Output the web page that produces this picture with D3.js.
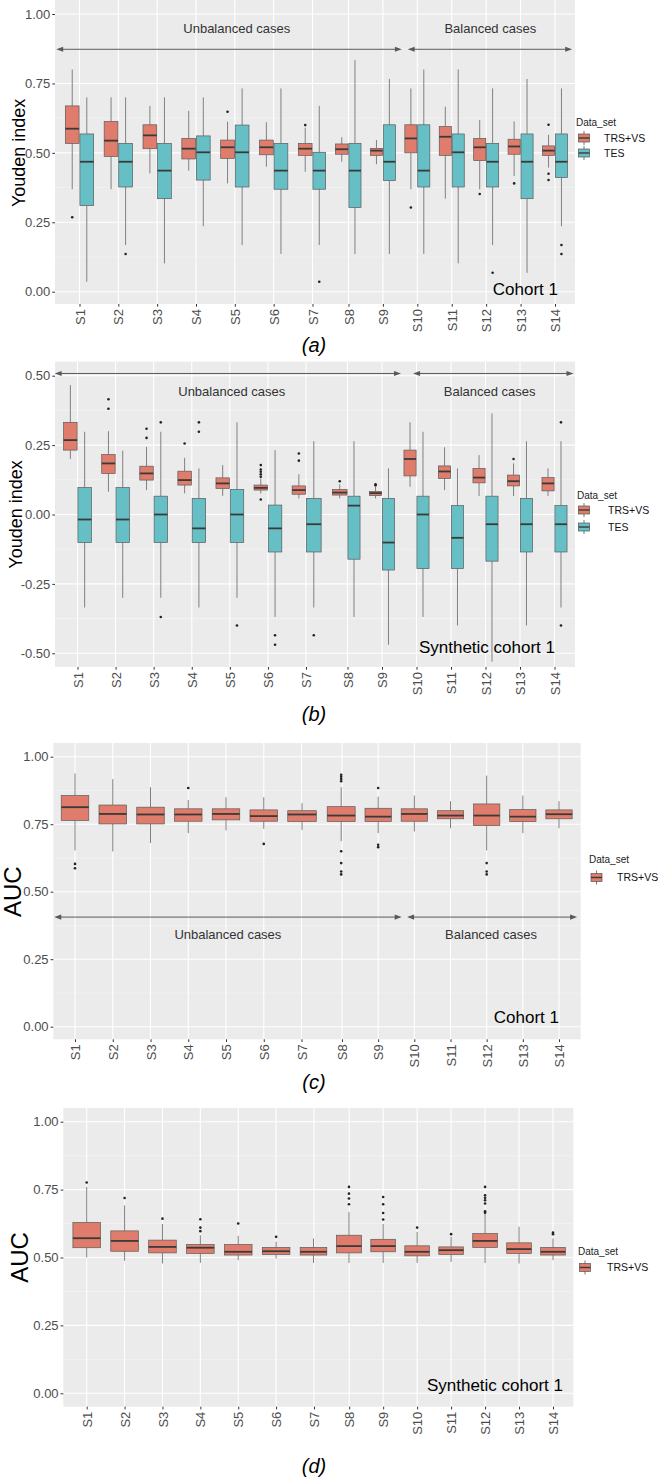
<!DOCTYPE html>
<html><head><meta charset="utf-8">
<script src="https://cdn.jsdelivr.net/npm/d3@7"></script>
<style>
body{margin:0;background:#fff;}
svg{display:block;font-family:"Liberation Sans",Arial,Helvetica,sans-serif;}
</style></head>
<body><svg id="chart" width="660" height="1477"></svg>
<script>
// ---------- DATA ----------
const categories = ["S1","S2","S3","S4","S5","S6","S7","S8","S9","S10","S11","S12","S13","S14"];
const seriesNames = ["TRS+VS","TES"];
// box stats: [whiskerLow, q1, median, q3, whiskerHigh]
const youdenC1Trs = [
 [0.369,0.534,0.587,0.669,0.80],[0.369,0.487,0.544,0.613,0.70],[0.426,0.515,0.563,0.601,0.669],
 [0.436,0.478,0.515,0.552,0.651],[0.39,0.48,0.52,0.546,0.612],[0.45,0.493,0.52,0.546,0.61],
 [0.432,0.491,0.515,0.534,0.59],[0.468,0.495,0.513,0.532,0.556],[0.459,0.491,0.508,0.516,0.546],
 [0.369,0.50,0.552,0.601,0.732],[0.335,0.491,0.558,0.595,0.666],[0.369,0.472,0.52,0.552,0.618],
 [0.417,0.495,0.523,0.549,0.613],[0.447,0.491,0.508,0.525,0.565]];
const youdenC1TrsOut = [[0.268],[],[],[],[0.648],[],[0.60],[],[],[0.303],[],[0.352],[0.39],[0.601,0.425,0.402]];
const youdenC1Tes = [
 [0.036,0.31,0.468,0.568,0.70],[0.168,0.377,0.468,0.534,0.70],[0.102,0.335,0.436,0.534,0.70],
 [0.236,0.402,0.502,0.561,0.70],[0.168,0.377,0.502,0.60,0.732],[0.136,0.369,0.436,0.534,0.732],
 [0.168,0.369,0.436,0.502,0.669],[0.136,0.303,0.436,0.534,0.834],[0.136,0.40,0.468,0.601,0.766],
 [0.136,0.377,0.436,0.601,0.80],[0.102,0.377,0.502,0.568,0.80],[0.168,0.377,0.468,0.534,0.732],
 [0.068,0.335,0.468,0.568,0.766],[0.236,0.411,0.468,0.568,0.732]];
const youdenC1TesOut = [[],[0.136],[],[],[],[],[0.036],[],[],[],[],[0.068],[],[0.168,0.136]];

const youdenSynTrs = [
 [0.20,0.232,0.268,0.332,0.466],[0.082,0.148,0.184,0.216,0.30],[0.088,0.124,0.148,0.174,0.244],
 [0.076,0.106,0.124,0.156,0.204],[0.067,0.094,0.112,0.132,0.178],[0.076,0.088,0.096,0.106,0.13],
 [0.058,0.073,0.088,0.103,0.145],[0.058,0.07,0.079,0.09,0.109],[0.058,0.068,0.077,0.083,0.1],
 [0.10,0.139,0.20,0.232,0.332],[0.088,0.13,0.155,0.175,0.242],[0.067,0.114,0.133,0.166,0.214],
 [0.067,0.103,0.12,0.142,0.184],[0.067,0.085,0.112,0.133,0.166]];
const youdenSynTrsOut = [[],[0.415,0.381],[0.309,0.276],[0.256],[],[0.178,0.162,0.154,0.145,0.136,0.054],
 [0.22,0.194],[0.12],[0.109,0.105],[],[],[],[0.20],[]];
const youdenSynTes = [
 [-0.335,-0.101,-0.018,0.097,0.298],[-0.30,-0.101,-0.018,0.097,0.23],[-0.30,-0.101,0.0,0.066,0.298],
 [-0.335,-0.101,-0.05,0.058,0.166],[-0.30,-0.101,0.0,0.09,0.332],[-0.369,-0.135,-0.05,0.034,0.232],
 [-0.335,-0.135,-0.035,0.058,0.264],[-0.369,-0.161,0.032,0.066,0.264],[-0.469,-0.2,-0.101,0.058,0.166],
 [-0.369,-0.195,0.0,0.066,0.298],[-0.40,-0.195,-0.084,0.032,0.166],[-0.53,-0.168,-0.035,0.066,0.364],
 [-0.40,-0.135,-0.035,0.058,0.264],[-0.335,-0.135,-0.035,0.032,0.264]];
const youdenSynTesOut = [[],[],[0.332,-0.369],[0.332,0.298],[-0.40],[-0.435,-0.469],[-0.435],[],[],[],[],[],[],[0.332,-0.40]];

const aucC1Trs = [
 [0.653,0.764,0.813,0.856,0.938],[0.649,0.751,0.788,0.821,0.917],[0.68,0.751,0.786,0.813,0.887],
 [0.717,0.761,0.786,0.807,0.84],[0.727,0.766,0.788,0.807,0.85],[0.733,0.761,0.78,0.803,0.85],
 [0.729,0.76,0.786,0.80,0.828],[0.687,0.76,0.782,0.815,0.887],[0.717,0.76,0.778,0.809,0.852],
 [0.723,0.761,0.788,0.807,0.856],[0.735,0.77,0.782,0.80,0.835],[0.653,0.745,0.782,0.825,0.93],
 [0.717,0.76,0.778,0.804,0.856],[0.735,0.77,0.787,0.803,0.835]];
const aucC1TrsOut = [[0.603,0.587],[],[],[0.884],[],[0.677],[],
 [0.933,0.926,0.917,0.909,0.65,0.606,0.575,0.564],[0.884,0.674,0.665],[],[],[0.606,0.575,0.564],[],[]];

const aucSynTrs = [
 [0.50,0.536,0.571,0.629,0.76],[0.488,0.523,0.561,0.598,0.692],[0.478,0.517,0.539,0.564,0.623],
 [0.48,0.515,0.536,0.548,0.582],[0.49,0.509,0.521,0.548,0.58],[0.496,0.511,0.523,0.537,0.558],
 [0.48,0.509,0.521,0.537,0.57],[0.48,0.517,0.542,0.582,0.668],[0.48,0.521,0.542,0.567,0.623],
 [0.48,0.506,0.521,0.543,0.594],[0.484,0.511,0.527,0.539,0.576],[0.48,0.537,0.561,0.588,0.662],
 [0.478,0.515,0.531,0.554,0.613],[0.49,0.509,0.521,0.537,0.57]];
const aucSynTrsOut = [[0.776],[0.719],[0.643],[0.641,0.61,0.597],[0.625],[0.576],[],
 [0.76,0.735,0.717,0.696],[0.723,0.696,0.664,0.64],[0.61],[0.586],[0.76,0.729,0.72,0.711,0.699,0.67,0.665],[],[0.592,0.586]];

const yTicksUnit = [0,0.25,0.5,0.75,1];
const yTicksSym = [-0.5,-0.25,0,0.25,0.5];

// ---------- STYLE / LAYOUT ----------
const colors = {"TRS+VS":"#E07C6C","TES":"#67BFC6"};
const panels = [
 {top:0,bottom:304,left:55,right:575,yDom:[0,1],yRng:[291.7,14],ticks:yTicksUnit,minor:[0.125,0.375,0.625,0.875],
  xAnch:[79.5,312.5,348.5,555],
  series:[{name:"TRS+VS",stats:youdenC1Trs,out:youdenC1TrsOut},{name:"TES",stats:youdenC1Tes,out:youdenC1TesOut}],
  ytitle:"Youden index",ytSize:18,ytX:18.5,
  arrowV:0.873,textV:0.949,unbal:[-0.6,8.55],bal:[8.72,13.5],
  note:"Cohort 1",noteX:558,noteY:295,
  legend:{x:576,y:122,keyX:584,keyY:[138,153],labX:604},
  tag:"(a)",tagY:352},
 {top:361.7,bottom:667,left:55,right:575,yDom:[-0.5,0.5],yRng:[653.3,375.7],ticks:yTicksSym,minor:[-0.375,-0.125,0.125,0.375],
  xAnch:[77.5,306,347.5,554.5],
  series:[{name:"TRS+VS",stats:youdenSynTrs,out:youdenSynTrsOut},{name:"TES",stats:youdenSynTes,out:youdenSynTesOut}],
  ytitle:"Youden index",ytSize:18,ytX:16,
  arrowV:0.508,textV:0.444,unbal:[-0.6,8.55],bal:[8.9,13.55],
  note:"Synthetic cohort 1",noteX:555,noteY:653,
  legend:{x:577,y:495,keyX:584,keyY:[510,527],labX:608},
  tag:"(b)",tagY:721},
 {top:743,bottom:1039.3,left:53.3,right:580.7,yDom:[0,1],yRng:[1026.7,756.7],ticks:yTicksUnit,minor:[0.125,0.375,0.625,0.875],
  xAnch:[75,301.5,342,559],
  series:[{name:"TRS+VS",stats:aucC1Trs,out:aucC1TrsOut}],
  ytitle:"AUC",ytSize:24,ytX:12.5,
  arrowV:0.406,textV:0.34,unbal:[-0.55,8.65],bal:[8.8,13.5],
  note:"Cohort 1",noteX:559,noteY:1023,
  legend:{x:589,y:859,keyX:596.5,keyY:[877.5],labX:617},
  tag:"(c)",tagY:1089},
 {top:1108,bottom:1406.7,left:63.3,right:573.3,yDom:[0,1],yRng:[1393.3,1121.7],ticks:yTicksUnit,minor:[0.125,0.375,0.625,0.875],
  xAnch:[86.7,314,349.2,553],
  series:[{name:"TRS+VS",stats:aucSynTrs,out:aucSynTrsOut}],
  ytitle:"AUC",ytSize:24,ytX:20,
  note:"Synthetic cohort 1",noteX:563,noteY:1391,
  legend:{x:578,y:1251,keyX:585,keyY:[1267.5],labX:607},
  tag:"(d)",tagY:1473}
];

const svg = d3.select("#chart");
svg.append("rect").attr("width",660).attr("height",1477).attr("fill","#fff");

function arrowHead(g, x, y, dir){
  const L=7, H=2.6;
  g.append("path").attr("d",`M${x},${y} L${x-dir*L},${y-H} L${x-dir*L},${y+H} Z`).attr("fill","#595959");
}

panels.forEach(p=>{
  const g = svg.append("g");
  const x = d3.scaleLinear().domain([0,6,7,13]).range(p.xAnch);
  const y = d3.scaleLinear().domain(p.yDom).range(p.yRng);

  g.append("rect").attr("x",p.left).attr("y",p.top).attr("width",p.right-p.left).attr("height",p.bottom-p.top).attr("fill","#EBEBEB");
  g.selectAll(".gmin").data(p.minor).join("line")
    .attr("x1",p.left).attr("x2",p.right).attr("y1",d=>y(d)).attr("y2",d=>y(d))
    .attr("stroke","#F7F7F7").attr("stroke-width",0.6);
  g.selectAll(".gmaj").data(p.ticks).join("line")
    .attr("x1",p.left).attr("x2",p.right).attr("y1",d=>y(d)).attr("y2",d=>y(d))
    .attr("stroke","#fff").attr("stroke-width",1.1);
  g.selectAll(".gx").data(d3.range(categories.length)).join("line")
    .attr("x1",d=>x(d)).attr("x2",d=>x(d)).attr("y1",p.top).attr("y2",p.bottom)
    .attr("stroke","#fff").attr("stroke-width",1.1);

  if(p.arrowV!==undefined){
    const ay = y(p.arrowV);
    [p.unbal,p.bal].forEach(r=>{
      const x0=x(r[0]), x1=x(r[1]);
      g.append("line").attr("x1",x0+3).attr("x2",x1-3).attr("y1",ay).attr("y2",ay).attr("stroke","#595959").attr("stroke-width",1);
      arrowHead(g,x0,ay,-1); arrowHead(g,x1,ay,1);
    });
    const ty = y(p.textV);
    g.append("text").attr("x",x(4.05)).attr("y",ty).attr("dy","0.35em").attr("text-anchor","middle")
      .attr("font-size",13).attr("fill","#333").text("Unbalanced cases");
    g.append("text").attr("x",x(11.12)).attr("y",ty).attr("dy","0.35em").attr("text-anchor","middle")
      .attr("font-size",13).attr("fill","#333").text("Balanced cases");
  }

  const n = p.series.length;
  p.series.forEach((s,k)=>{
    const col = colors[s.name];
    s.stats.forEach((st,i)=>{
      let a,b;
      if(n===2){ a = k===0? i-0.375 : i; b = k===0? i : i+0.375; }
      else { a = i-0.375; b = i+0.375; }
      const px0 = x(a)+0.4, px1 = x(b)-0.4, cx=(px0+px1)/2;
      const [lo,q1,md,q3,hi] = st;
      g.append("line").attr("x1",cx).attr("x2",cx).attr("y1",y(hi)).attr("y2",y(q3)).attr("stroke","#808080").attr("stroke-width",1);
      g.append("line").attr("x1",cx).attr("x2",cx).attr("y1",y(q1)).attr("y2",y(lo)).attr("stroke","#808080").attr("stroke-width",1);
      g.append("rect").attr("x",px0).attr("y",y(q3)).attr("width",px1-px0).attr("height",y(q1)-y(q3))
        .attr("fill",col).attr("stroke","#5a5a5a").attr("stroke-width",0.7);
      g.append("line").attr("x1",px0).attr("x2",px1).attr("y1",y(md)).attr("y2",y(md)).attr("stroke","#3a3a3a").attr("stroke-width",1.8);
      s.out[i].forEach(o=>{
        g.append("circle").attr("cx",cx).attr("cy",y(o)).attr("r",1.3).attr("fill","#222");
      });
    });
  });

  g.append("text").attr("x",p.noteX).attr("y",p.noteY).attr("text-anchor","end").attr("font-size",17).attr("fill","#000").text(p.note);

  const ya = g.append("g").attr("transform",`translate(${p.left},0)`)
    .call(d3.axisLeft(y).tickValues(p.ticks).tickFormat(d=>d.toFixed(2)).tickSize(2.7).tickPadding(2));
  ya.select(".domain").remove();
  ya.selectAll("line").attr("stroke","#333");
  ya.selectAll("text").attr("font-size",13).attr("fill","#4D4D4D").attr("font-family","Liberation Sans, Arial, sans-serif");

  const xa = g.append("g").attr("transform",`translate(0,${p.bottom})`)
    .call(d3.axisBottom(x).tickValues(d3.range(categories.length)).tickFormat(i=>categories[i]).tickSize(2.7));
  xa.select(".domain").remove();
  xa.selectAll("line").attr("stroke","#333");
  xa.selectAll("text").attr("transform","rotate(-90)").attr("x",-5).attr("y",0).attr("dy","0.35em")
    .attr("text-anchor","end").attr("font-size",13).attr("fill","#4D4D4D").attr("font-family","Liberation Sans, Arial, sans-serif");

  g.append("text").attr("transform",`translate(${p.ytX},${(y.range()[0]+y.range()[1])/2}) rotate(-90)`)
    .attr("text-anchor","middle").attr("dy","0.35em").attr("font-size",p.ytSize).attr("fill","#000").text(p.ytitle);

  const L = p.legend;
  g.append("text").attr("x",L.x).attr("y",L.y).attr("dy","0.35em").attr("font-size",10).attr("fill","#222").text("Data_set");
  p.series.forEach((s,k)=>{
    const cy = L.keyY[k], cx = L.keyX;
    g.append("line").attr("x1",cx).attr("x2",cx).attr("y1",cy-7).attr("y2",cy+7).attr("stroke","#777").attr("stroke-width",1);
    g.append("rect").attr("x",cx-5.5).attr("y",cy-4).attr("width",11).attr("height",8).attr("fill",colors[s.name]).attr("stroke","#555").attr("stroke-width",0.7);
    g.append("line").attr("x1",cx-5.5).attr("x2",cx+5.5).attr("y1",cy).attr("y2",cy).attr("stroke","#3a3a3a").attr("stroke-width",1.4);
    g.append("text").attr("x",L.labX).attr("y",cy).attr("dy","0.35em").attr("font-size",10.5).attr("fill","#111").text(s.name);
  });

  g.append("text").attr("x",314).attr("y",p.tagY).attr("text-anchor","middle").attr("font-size",20)
    .attr("font-style","italic").attr("fill","#000").text(p.tag);
});
</script></body></html>
